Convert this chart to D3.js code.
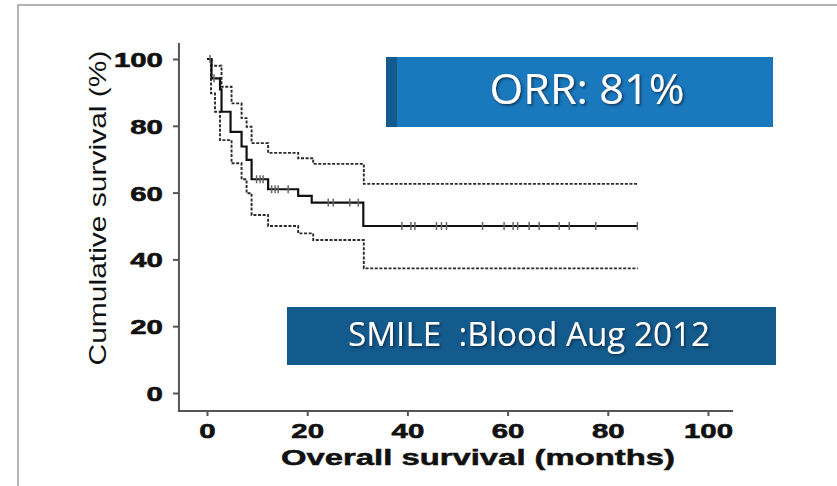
<!DOCTYPE html>
<html>
<head>
<meta charset="utf-8">
<script src="https://cdn.jsdelivr.net/npm/d3@7/dist/d3.min.js"></script>
<style>
  html, body { margin: 0; padding: 0; background: #fff; }
  svg { display: block; }
</style>
</head>
<body>
<svg id="chart" width="837" height="486"></svg>
<script>
// Kaplan–Meier overall survival: step points [month, survival %]
const survivalSteps = [
  [0, 100], [0.9, 94.2], [2.6, 90.9], [2.9, 84.2], [4.7, 78.2], [6.9, 73.8],
  [7.9, 69.8], [8.9, 64.0], [12.2, 61.0], [18.2, 59.0], [20.9, 57.0], [31.2, 50.0], [86, 50.0]
];
const upperSteps = [
  [0, 100], [0.9, 98.0], [2.9, 91.7], [4.9, 86.7], [6.9, 82.3], [7.9, 79.7],
  [8.9, 74.8], [12.2, 71.9], [18.2, 70.3], [21.2, 68.6], [31.3, 62.6], [86, 62.6]
];
const lowerSteps = [
  [0, 100], [0.8, 89.7], [1.6, 84.2], [2.6, 75.7], [4.9, 68.8], [6.9, 64.0],
  [7.9, 59.8], [8.9, 53.3], [12.2, 50.0], [18.2, 47.8], [21.2, 45.8], [31.3, 37.3], [86, 37.3]
];
// censored observations (months)
const censorTimes = [0.6, 1.4, 9.9, 10.6, 11.2, 12.9, 13.6, 14.2, 16.2, 24.2, 25.2, 28.5, 30.2,
  38.9, 40.7, 41.5, 45.8, 46.8, 47.8, 55.0, 59.3, 61.1, 62.0, 64.3, 66.3, 70.3, 72.3, 77.6, 85.9];

const xTicks = [0, 20, 40, 60, 80, 100];
const yTicks = [0, 20, 40, 60, 80, 100];
const xTitle = "Overall survival (months)";
const yTitle = "Cumulative survival (%)";
const orrLabel = "ORR: 81%";
const studyLabel = "SMILE  :Blood Aug 2012";

const svg = d3.select("#chart");

const x = d3.scaleLinear().domain([0, 100]).range([207, 708]);
const y = d3.scaleLinear().domain([0, 100]).range([393, 59]);

// slide frame
svg.append("path")
  .attr("d", "M18,486 L18,5 L837,5")
  .attr("fill", "none").attr("stroke", "#9a9a9a").attr("stroke-width", 1.5);

// drop shadow for the banner text
const defs = svg.append("defs");
const f = defs.append("filter").attr("id", "shadow").attr("x", "-10%").attr("y", "-20%").attr("width", "130%").attr("height", "150%");
f.append("feDropShadow").attr("dx", 1.5).attr("dy", 1.5).attr("stdDeviation", 1)
  .attr("flood-color", "#0a2740").attr("flood-opacity", 0.8);

const axisColor = "#555";
const labelFont = "Liberation Sans, Arial, sans-serif";

// y axis
const yAxis = svg.append("g").attr("transform", `translate(${x(-5.6)},0)`)
  .call(d3.axisLeft(y).tickValues(yTicks).tickSize(6).tickSizeOuter(0).tickPadding(10));
yAxis.select(".domain").remove();
yAxis.append("line").attr("x1", 0).attr("x2", 0).attr("y1", y(104.8)).attr("y2", y(-5.6))
  .attr("stroke", axisColor).attr("stroke-width", 2);
yAxis.selectAll(".tick line").attr("stroke", axisColor).attr("stroke-width", 2);
yAxis.selectAll(".tick text")
  .attr("fill", "#111").attr("font-family", labelFont)
  .attr("font-weight", "bold").attr("font-size", 21)
  .attr("stroke", "#111").attr("stroke-width", 0.6)
  .attr("dy", "0.36em")
  .each(function () {
    const t = d3.select(this);
    const tx = +t.attr("x");
    t.attr("x", 0).attr("transform", `translate(${tx},0) scale(1.4,1)`);
  });

// x axis
const xAxis = svg.append("g").attr("transform", `translate(0,${y(-5.4)})`)
  .call(d3.axisBottom(x).tickValues(xTicks).tickSize(5).tickSizeOuter(0).tickPadding(4));
xAxis.select(".domain").remove();
xAxis.append("line").attr("x1", x(-5.8)).attr("x2", x(105)).attr("y1", 0).attr("y2", 0)
  .attr("stroke", axisColor).attr("stroke-width", 2);
xAxis.selectAll(".tick line").attr("stroke", axisColor).attr("stroke-width", 2);
xAxis.selectAll(".tick text")
  .attr("fill", "#111").attr("font-family", labelFont)
  .attr("font-weight", "bold").attr("font-size", 21)
  .attr("stroke", "#111").attr("stroke-width", 0.6)
  .attr("y", 0).attr("dy", 0)
  .attr("transform", "translate(0,27) scale(1.4,1)");

// axis titles
svg.append("text")
  .attr("x", 478).attr("y", 465).attr("text-anchor", "middle")
  .attr("font-family", labelFont).attr("font-weight", "bold")
  .attr("font-size", 22).attr("fill", "#111")
  .attr("stroke", "#111").attr("stroke-width", 0.5)
  .attr("textLength", 394).attr("lengthAdjust", "spacingAndGlyphs")
  .text(xTitle);

svg.append("text")
  .attr("transform", "translate(106,208) rotate(-90)")
  .attr("text-anchor", "middle")
  .attr("font-family", labelFont)
  .attr("font-size", 24).attr("fill", "#111")
  .attr("textLength", 315).attr("lengthAdjust", "spacingAndGlyphs")
  .text(yTitle);

// step curves
const stepLine = d3.line().x(d => x(d[0])).y(d => y(d[1])).curve(d3.curveStepAfter);

svg.append("path").datum(upperSteps).attr("d", stepLine)
  .attr("fill", "none").attr("stroke", "#2a2a2a").attr("stroke-width", 1.9).attr("stroke-dasharray", "3,1.6");
svg.append("path").datum(lowerSteps).attr("d", stepLine)
  .attr("fill", "none").attr("stroke", "#2a2a2a").attr("stroke-width", 1.9).attr("stroke-dasharray", "3,1.6");
svg.append("path").datum(survivalSteps).attr("d", stepLine)
  .attr("fill", "none").attr("stroke", "#111").attr("stroke-width", 2.2);

// censor ticks on the survival curve
function survivalAt(t) {
  let s = survivalSteps[0][1];
  for (const [tt, v] of survivalSteps) { if (tt <= t) s = v; }
  return s;
}
svg.append("g").selectAll("line").data(censorTimes).join("line")
  .attr("x1", d => x(d)).attr("x2", d => x(d))
  .attr("y1", d => y(survivalAt(d)) - 4).attr("y2", d => y(survivalAt(d)) + 4)
  .attr("stroke", "#666").attr("stroke-width", 1.5);

// banners
const orr = svg.append("g");
orr.append("rect").attr("x", 386).attr("y", 57).attr("width", 387).attr("height", 70).attr("fill", "#1a78bd");
orr.append("rect").attr("x", 386).attr("y", 57).attr("width", 11).attr("height", 70).attr("fill", "#135a8e");
orr.append("text").attr("x", 587).attr("y", 104).attr("text-anchor", "middle")
  .attr("font-family", "Open Sans, DejaVu Sans, sans-serif").attr("font-size", 42)
  .attr("fill", "#fff").attr("filter", "url(#shadow)")
  .attr("textLength", 195).attr("lengthAdjust", "spacingAndGlyphs")
  .text(orrLabel);

const study = svg.append("g");
study.append("rect").attr("x", 287).attr("y", 307).attr("width", 489).attr("height", 58).attr("fill", "#135a8d");
study.append("text").attr("x", 348).attr("y", 346)
  .attr("font-family", "Open Sans, DejaVu Sans, sans-serif").attr("font-size", 32)
  .attr("fill", "#fff").attr("filter", "url(#shadow)")
  .attr("textLength", 362).attr("lengthAdjust", "spacingAndGlyphs")
  .style("white-space", "pre")
  .text(studyLabel);
</script>
</body>
</html>
